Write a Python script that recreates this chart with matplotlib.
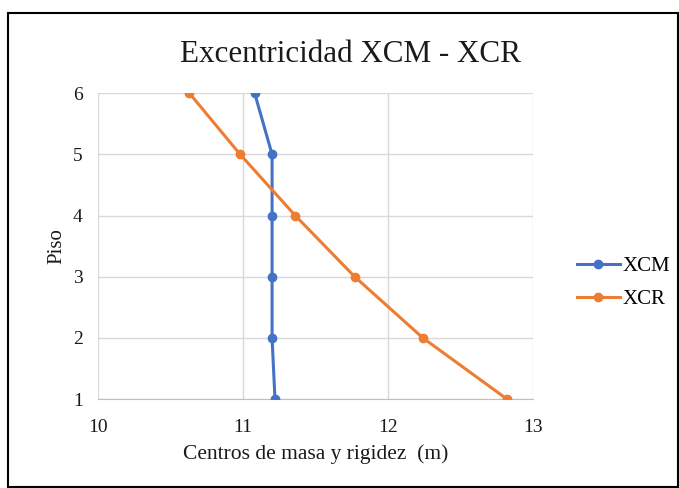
import matplotlib
matplotlib.use("Agg")
import matplotlib.pyplot as plt
from matplotlib.patches import Rectangle

# data
pisos = [1, 2, 3, 4, 5, 6]
xcm = [11.22, 11.20, 11.20, 11.20, 11.20, 11.08]
xcr = [12.82, 12.24, 11.77, 11.36, 10.98, 10.63]

plt.rcParams['font.family'] = ['Liberation Serif', 'DejaVu Serif']

fig = plt.figure(figsize=(6.79, 4.88), dpi=100)
ax = fig.add_axes([0.1443, 0.182, 0.641, 0.627])

blue = '#4472C4'
orange = '#ED7D31'

ax.plot(xcm, pisos, color=blue, lw=2.2, marker='o', ms=6, label='XCM', zorder=3)
ax.plot(xcr, pisos, color=orange, lw=2.2, marker='o', ms=6, label='XCR', zorder=3)

ax.set_xlim(10, 13)
ax.set_ylim(1, 6)
ax.set_xticks([10, 11, 12, 13])
ax.set_yticks(pisos)
ax.grid(True, color='#d9d9d9', lw=1)
ax.set_axisbelow(True)
for s in ['top', 'right', 'left']:
    ax.spines[s].set_visible(False)
ax.spines['bottom'].set_color('#bfbfbf')
ax.tick_params(length=0, labelsize=14, colors='#1a1a1a')
ax.tick_params(axis='x', pad=14)
ax.tick_params(axis='y', pad=11)

ax.set_xlabel('Centros de masa y rigidez  (m)', fontsize=15.5, color='#1a1a1a', labelpad=6)
ax.set_ylabel('Piso', fontsize=15, color='#1a1a1a', labelpad=5)
fig.text(0.5165, 1 - 62 / 488, 'Excentricidad XCM - XCR', ha='center', va='baseline',
         fontsize=22.4, color='#1a1a1a')

fig.legend(loc='center left', bbox_to_anchor=(0.822, 0.42), frameon=False,
           fontsize=15, handlelength=2.07, handletextpad=0.1, labelspacing=0.65)

# outer frame
fig.patches.append(Rectangle((8 / 679, 1 / 488), 670 / 679, 474 / 488,
                             transform=fig.transFigure, fill=False,
                             edgecolor='black', lw=1.5))

fig.savefig('out.png', dpi=100, facecolor='white')
